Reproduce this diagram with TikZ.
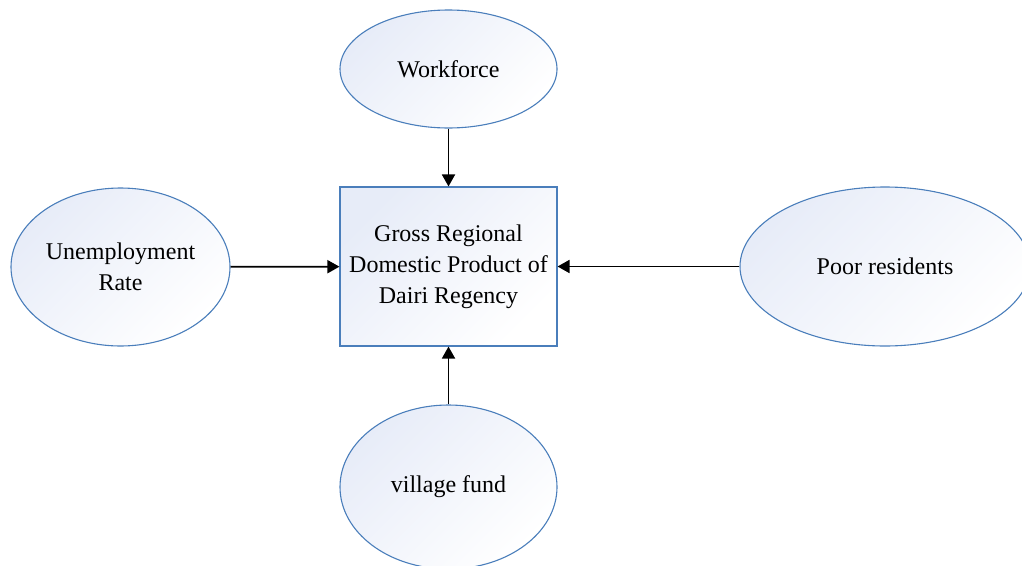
\documentclass[tikz,border=0pt]{standalone}
\usepackage{fontspec}
\setmainfont{Liberation Serif}
\usetikzlibrary{shapes.geometric,arrows.meta}
\definecolor{edgeblue}{RGB}{74,126,187}
\definecolor{shadeblue}{RGB}{231,236,248}
\tikzset{
  base/.style={draw=edgeblue, line width=1.1pt, top color=shadeblue, bottom color=white, shading angle=45,
    font=\fontsize{24}{31}\selectfont, align=center, inner sep=0pt},
  oval/.style={base, ellipse},
  box/.style={base, rectangle},
  arr/.style={line width=1.8pt, -{Triangle[length=12pt,width=13pt]}}
}
\begin{document}
\begin{tikzpicture}[x=1pt,y=-1pt]
\useasboundingbox (0,0) rectangle (1022,565);
\node[box, minimum width=217pt, minimum height=159pt] (gdp) at (448.5,266.5) {\raisebox{-3pt}{\parbox{200pt}{\centering Gross Regional\\Domestic Product of\\Dairi Regency}}};
\node[oval, minimum width=217pt, minimum height=118pt] (work) at (448.5,69) {Workforce};
\node[oval, minimum width=219pt, minimum height=158pt] (unemp) at (120.5,267) {Unemployment\\Rate};
\node[oval, minimum width=290pt, minimum height=159pt] (poor) at (885,266.5) {Poor residents};
\node[oval, minimum width=217pt, minimum height=164pt] (vill) at (448.5,487) {village fund};
\draw[arr] (work) -- (gdp);
\draw[arr] (unemp) -- (gdp);
\draw[arr] (poor) -- (gdp);
\draw[arr] (vill) -- (gdp);
\end{tikzpicture}
\end{document}
